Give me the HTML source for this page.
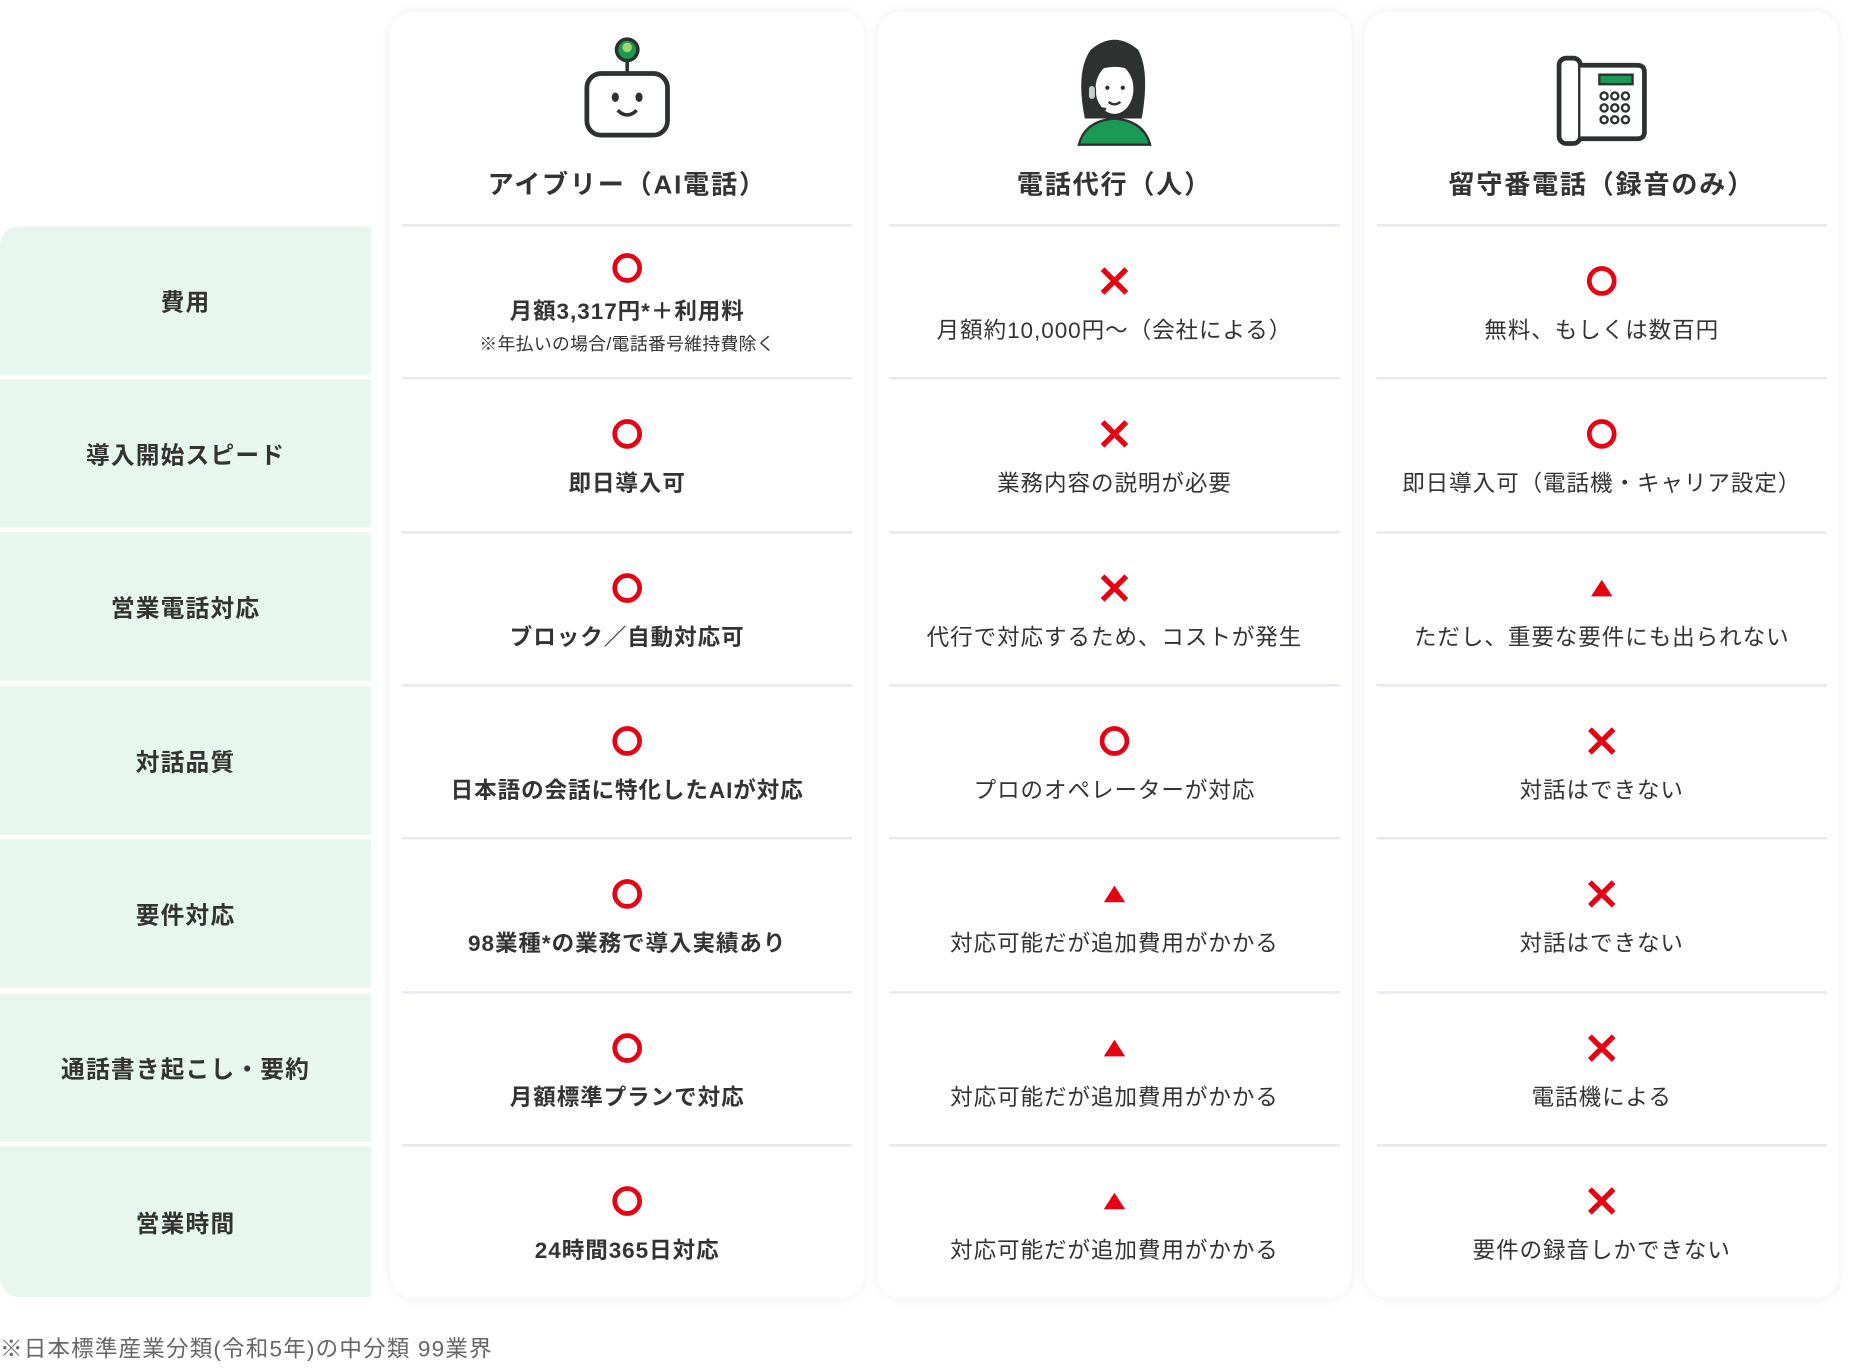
<!DOCTYPE html>
<html><head><meta charset="utf-8"><style>
body{margin:0;background:#fff;width:1859px;height:1372px;overflow:hidden;font-family:"Liberation Sans","Noto Sans CJK JP",sans-serif;color:#333}
#w{position:absolute;left:0;top:0;width:1568px;height:1157px;transform:scale(1.1856);transform-origin:0 0}
.lab{position:absolute;left:0;width:313px;background:#e7f6ee;display:flex;align-items:center;justify-content:center;font-weight:bold;font-size:20px;letter-spacing:1px;color:#333}
.card{position:absolute;top:10px;width:400px;height:1085px;background:#fff;border-radius:20px;box-shadow:0 0 10px rgba(0,0,0,0.07)}
.ttl{position:absolute;top:128px;left:0;width:100%;text-align:center;font-weight:bold;font-size:22px;letter-spacing:1.5px}
.ln{position:absolute;left:10px;right:10px;height:2px;background:#e6e8ef}
.cell{position:absolute;left:0;width:100%;text-align:center;font-size:19px;letter-spacing:0.8px}
.sym{position:absolute;left:0;width:100%;display:flex;justify-content:center}
.foot{position:absolute;left:0;top:1123px;font-size:19px;letter-spacing:1px;color:#666}
</style></head><body><div id="w">
<div class="lab" style="top:191px;height:125px;border-radius:16px 0 0 0">費用</div>
<div class="lab" style="top:320px;height:125px">導入開始スピード</div>
<div class="lab" style="top:449px;height:125px">営業電話対応</div>
<div class="lab" style="top:579px;height:125px">対話品質</div>
<div class="lab" style="top:708px;height:125px">要件対応</div>
<div class="lab" style="top:838px;height:125px">通話書き起こし・要約</div>
<div class="lab" style="top:967px;height:127px;border-radius:0 0 0 16px">営業時間</div>
<div id="cards"></div>
<div class="foot">※日本標準産業分類(令和5年)の中分類 99業界</div>
</div>
<script>
const O='<svg width="28" height="28"><circle cx="14" cy="14" r="10.5" fill="none" stroke="#e60012" stroke-width="4"/></svg>';
const X='<svg width="28" height="28"><path d="M4 4L24 24M24 4L4 24" stroke="#e60012" stroke-width="4.5"/></svg>';
const T='<svg width="22" height="20"><polygon points="11,3 20,17 2,17" fill="#e60012"/></svg>';
const icons=[
`<svg width="80" height="95" viewBox="0 0 80 95"><line x1="40" y1="20" x2="40" y2="32" stroke="#2d312f" stroke-width="3"/><circle cx="40" cy="12" r="9" fill="#1a9a55" stroke="#2d312f" stroke-width="3"/><circle cx="40" cy="10" r="4" fill="#9fd86a"/><rect x="6" y="32" width="68" height="52" rx="12" fill="#fff" stroke="#2d312f" stroke-width="4"/><ellipse cx="30" cy="52" rx="3" ry="4" fill="#2d312f"/><ellipse cx="50" cy="52" rx="3" ry="4" fill="#2d312f"/><path d="M32 63Q40 71 48 63" stroke="#2d312f" stroke-width="3" fill="none"/></svg>`,
`<svg width="90" height="95" viewBox="0 0 90 95"><path d="M15 92Q20 72 45 70Q70 72 75 92Z" fill="#1a9a55" stroke="#2d312f" stroke-width="2"/><path d="M20 70Q12 30 25 12Q45 -5 65 12Q75 30 68 70Z" fill="#2d312f"/><ellipse cx="45" cy="45" rx="17" ry="22" fill="#fff" stroke="#2d312f" stroke-width="2"/><path d="M28 30Q45 12 62 32Q50 22 28 30Z" fill="#2d312f"/><circle cx="39" cy="44" r="1.8" fill="#2d312f"/><circle cx="52" cy="44" r="1.8" fill="#2d312f"/><path d="M40 56Q45 60 50 56" stroke="#2d312f" stroke-width="2" fill="none"/><rect x="23" y="42" width="6" height="12" rx="3" fill="#ccc" stroke="#2d312f"/><path d="M27 54Q30 62 38 62" stroke="#2d312f" stroke-width="2" fill="none"/></svg>`,
`<svg width="80" height="80" viewBox="0 0 80 80"><rect x="4" y="4" width="18" height="72" rx="6" fill="#fff" stroke="#2d312f" stroke-width="4"/><path d="M22 10H70Q76 10 76 16V66Q76 72 70 72H22" fill="#fff" stroke="#2d312f" stroke-width="4"/><rect x="38" y="18" width="28" height="8" fill="#1a9a55" stroke="#2d312f" stroke-width="2"/>`+[0,1,2].map(r=>[0,1,2].map(c=>`<circle cx="${42+c*9}" cy="${36+r*10}" r="3" fill="none" stroke="#2d312f" stroke-width="2"/>`).join('')).join('')+`</svg>`];
const titles=['アイブリー（AI電話）','電話代行（人）','留守番電話（録音のみ）'];
const data=[
[[O,'月額3,317円*＋利用料'],[O,'即日導入可'],[O,'ブロック／自動対応可'],[O,'日本語の会話に特化したAIが対応'],[O,'98業種*の業務で導入実績あり'],[O,'月額標準プランで対応'],[O,'24時間365日対応']],
[[X,'月額約10,000円〜（会社による）'],[X,'業務内容の説明が必要'],[X,'代行で対応するため、コストが発生'],[O,'プロのオペレーターが対応'],[T,'対応可能だが追加費用がかかる'],[T,'対応可能だが追加費用がかかる'],[T,'対応可能だが追加費用がかかる']],
[[O,'無料、もしくは数百円'],[O,'即日導入可（電話機・キャリア設定）'],[T,'ただし、重要な要件にも出られない'],[X,'対話はできない'],[X,'対話はできない'],[X,'電話機による'],[X,'要件の録音しかできない']]];
let h='';
const xs=[329,740,1151];
for(let c=0;c<3;c++){
 h+=`<div class="card" style="left:${xs[c]}px"><div class="sym" style="top:${c==2?35:20}px">${icons[c]}</div><div class="ttl">${titles[c]}</div>`;
 for(let r=0;r<7;r++){
  const top=181+r*129.3;
  h+=`<div class="ln" style="top:${top-2}px"></div>`;
  let sy=top+32, ty=top+73;
  if(c==0&&r==0){sy=top+21;ty=top+57;}
  const d=data[c][r];
  h+=`<div class="sym" style="top:${d[0]==T?sy+4:sy}px">${d[0]}</div><div class="cell" style="top:${ty}px;${c==0?'font-weight:bold':''}">${d[1]}</div>`;
  if(c==0&&r==0)h+=`<div class="cell" style="top:${top+88}px;font-size:15px;letter-spacing:0.3px">※年払いの場合/電話番号維持費除く</div>`;
 }
 h+='</div>';
}
document.getElementById('cards').innerHTML=h;
</script>
</body></html>
